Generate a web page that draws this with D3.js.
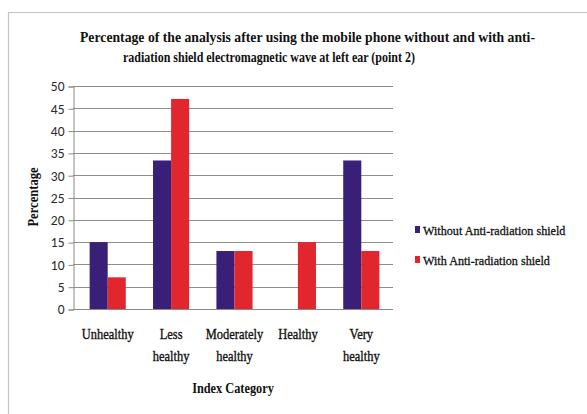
<!DOCTYPE html>
<html>
<head>
<meta charset="utf-8">
<script src="https://cdn.jsdelivr.net/npm/d3@7/dist/d3.min.js"></script>
<style>
  html, body { margin: 0; padding: 0; background: #fff; }
  svg { display: block; }
</style>
</head>
<body>
<svg id="chart" width="587" height="414"></svg>
<script>
// Index categories (two-line labels) and percentages per series
const categories = ["Unhealthy", "Less healthy", "Moderately healthy", "Healthy", "Very healthy"];
const categoryLines = [["Unhealthy"], ["Less", "healthy"], ["Moderately", "healthy"], ["Healthy"], ["Very", "healthy"]];
const seriesNames = ["Without Anti-radiation shield", "With Anti-radiation shield"];
const withoutShield = [15, 33.3, 13, 0, 33.3];
const withShield = [7.1, 47.1, 13, 15, 13];
const yTicks = [0, 5, 10, 15, 20, 25, 30, 35, 40, 45, 50];
const seriesColors = ["#3a1f78", "#e2262e"];

const svg = d3.select("#chart");

// Outer chart frame
svg.append("path")
  .attr("d", "M8.5,414 L8.5,12.5 L587,12.5")
  .attr("fill", "none").attr("stroke", "#c4c4bc").attr("stroke-width", 1.2);

const plot = { left: 73, right: 393, top: 86, bottom: 309 };

const y = d3.scaleLinear().domain([0, 50]).range([plot.bottom, plot.top]);
const x0 = d3.scaleBand().domain(categories).range([plot.left + 3, plot.right]).paddingInner(0.43).paddingOuter(0.215);
const x1 = d3.scaleBand().domain(seriesNames).range([0, x0.bandwidth()]);

// Gridlines
svg.append("g").selectAll("line").data(yTicks.filter(d => d > 0)).join("line")
  .attr("x1", plot.left).attr("x2", plot.right)
  .attr("y1", d => Math.round(y(d)) + 0.5).attr("y2", d => Math.round(y(d)) + 0.5)
  .attr("stroke", "#8e8e8a").attr("stroke-width", 1);

// Y axis
const yAxis = svg.append("g").attr("transform", `translate(${plot.left + 0.5},0.5)`)
  .call(d3.axisLeft(y).tickValues(yTicks).tickSize(5).tickPadding(4));
yAxis.select(".domain").attr("stroke", "#8a8a86");
yAxis.selectAll(".tick line").attr("stroke", "#8a8a86");
yAxis.selectAll(".tick text")
  .attr("font-family", "Carlito, 'Open Sans', 'Liberation Sans', sans-serif")
  .attr("font-size", 13.5).attr("fill", "#2a2a2a");

// X axis baseline
svg.append("line")
  .attr("x1", plot.left).attr("x2", plot.right)
  .attr("y1", plot.bottom + 0.5).attr("y2", plot.bottom + 0.5)
  .attr("stroke", "#8a8a86");

// Bars
const rows = categories.map((c, i) => ({ c, vals: [withoutShield[i], withShield[i]] }));
const groups = svg.append("g").selectAll("g").data(rows).join("g")
  .attr("transform", d => `translate(${x0(d.c)},0)`);
groups.selectAll("rect").data(d => d.vals.map((v, j) => ({ v, s: seriesNames[j], j }))).join("rect")
  .attr("x", d => x1(d.s))
  .attr("y", d => y(d.v))
  .attr("width", x1.bandwidth())
  .attr("height", d => plot.bottom - y(d.v))
  .attr("fill", d => seriesColors[d.j]);

const serif = "'Liberation Serif', 'Times New Roman', 'DejaVu Serif', serif";

// Category labels
categories.forEach((c, i) => {
  const cx = x0(c) + x0.bandwidth() / 2;
  categoryLines[i].forEach((line, k) => {
    svg.append("text")
      .attr("x", cx).attr("y", 339 + k * 22)
      .attr("text-anchor", "middle")
      .attr("font-family", serif).attr("font-size", 14.5)
      .attr("font-weight", "normal")
      .attr("fill", "#111")
      .attr("stroke", "#111").attr("stroke-width", 0.35)
      .attr("transform", `translate(${cx},0) scale(0.86,1) translate(${-cx},0)`)
      .text(line);
  });
});

// Axis titles
svg.append("text")
  .attr("x", 233).attr("y", 393)
  .attr("text-anchor", "middle")
  .attr("font-family", serif).attr("font-size", 14).attr("font-weight", "bold")
  .attr("fill", "#111")
  .attr("transform", "translate(233,0) scale(0.88,1) translate(-233,0)")
  .text("Index Category");

svg.append("text")
  .attr("transform", "translate(38,197) rotate(-90) scale(0.9,1)")
  .attr("text-anchor", "middle")
  .attr("font-family", serif).attr("font-size", 14).attr("font-weight", "bold")
  .attr("fill", "#111")
  .text("Percentage");

// Chart title
const titleLines = [
  { t: "Percentage of the analysis after using the mobile phone without  and with anti-", x1: 80, x2: 535, y: 42 },
  { t: "radiation shield electromagnetic wave at left ear (point 2)", x1: 123, x2: 415, y: 62 }
];
titleLines.forEach(l => {
  svg.append("text")
    .attr("x", l.x1).attr("y", l.y)
    .attr("textLength", l.x2 - l.x1).attr("lengthAdjust", "spacingAndGlyphs")
    .attr("font-family", serif).attr("font-size", 15).attr("font-weight", "bold")
    .attr("fill", "#111")
    .text(l.t);
});

// Legend
const legend = svg.append("g").selectAll("g").data(seriesNames).join("g")
  .attr("transform", (d, i) => `translate(415,${230 + i * 30})`);
legend.append("rect").attr("x", 0).attr("y", -4).attr("width", 5).attr("height", 7)
  .attr("fill", (d, i) => seriesColors[i]);
legend.append("text").attr("x", 8).attr("y", 4.5)
  .attr("font-family", serif).attr("font-size", 13.5).attr("font-weight", "normal")
  .attr("fill", "#111")
  .attr("stroke", "#111").attr("stroke-width", 0.3)
  .attr("transform", "translate(8,0) scale(0.9,1) translate(-8,0)")
  .text(d => d);
</script>
</body>
</html>
